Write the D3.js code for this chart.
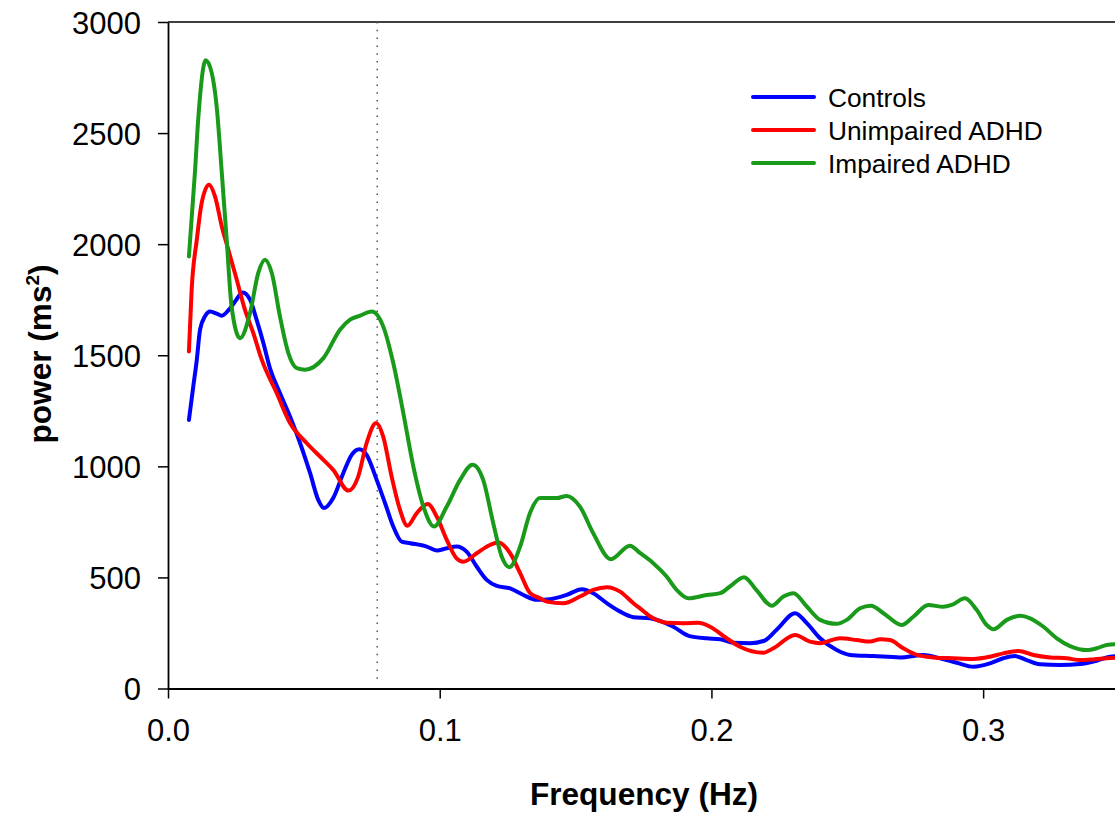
<!DOCTYPE html>
<html>
<head>
<meta charset="utf-8">
<script src="https://cdn.jsdelivr.net/npm/d3@7"></script>
<style>
  html, body { margin: 0; padding: 0; background: #fff; }
  svg { display: block; }
  text { font-family: "Liberation Sans", Arial, Helvetica, sans-serif; fill: #000; }
</style>
</head>
<body>
<svg id="chart" width="1115" height="815"></svg>
<script>
// ---- data ----
const seriesNames = ["Controls", "Unimpaired ADHD", "Impaired ADHD"];

const controlsFreq = [0.0077,0.0093,0.0106,0.0118,0.0136,0.0155,0.0179,0.0198,0.0222,0.0247,0.0275,0.0302,0.0326,0.0351,0.0375,0.0412,0.0449,0.0486,0.0523,0.0553,0.0574,0.0608,0.0645,0.0676,0.0704,0.0731,0.0768,0.0799,0.0829,0.086,0.0891,0.0952,0.0989,0.1026,0.1062,0.1099,0.1136,0.1173,0.121,0.1259,0.1308,0.1357,0.1406,0.1467,0.1523,0.1565,0.1615,0.1664,0.1713,0.1774,0.186,0.1919,0.1983,0.2032,0.2081,0.2142,0.2195,0.224,0.2308,0.2351,0.24,0.2461,0.251,0.2596,0.2694,0.278,0.2841,0.2903,0.2964,0.3025,0.3074,0.3117,0.316,0.3209,0.3283,0.3357,0.3418,0.3467,0.35];
const controlsPower = [1209,1359,1480,1615,1675,1697,1687,1678,1702,1742,1783,1750,1660,1555,1442,1330,1224,1105,969,849,812,857,969,1052,1077,1052,939,834,729,661,654,639,621,631,639,616,549,489,462,451,421,399,402,421,447,429,384,346,321,316,278,236,226,222,206,204,215,264,339,294,226,173,151,146,140,151,136,116,98,113,136,146,128,109,106,110,125,143,146];

const unimpairedFreq = [0.0077,0.0087,0.0106,0.0124,0.0151,0.0173,0.0198,0.0222,0.0253,0.0283,0.0314,0.0345,0.04,0.0449,0.051,0.0572,0.0608,0.0664,0.07,0.0731,0.0766,0.0792,0.0823,0.0854,0.0881,0.0915,0.0956,0.0989,0.1026,0.1062,0.1087,0.1136,0.1185,0.1216,0.1259,0.1296,0.1332,0.1369,0.1394,0.1455,0.1516,0.1565,0.1615,0.1664,0.1713,0.1737,0.1786,0.1835,0.1897,0.1952,0.1995,0.2056,0.2105,0.2191,0.2228,0.2308,0.2363,0.24,0.2473,0.2535,0.2584,0.2621,0.2657,0.2706,0.2756,0.2817,0.289,0.2964,0.3025,0.3074,0.313,0.3185,0.3246,0.3308,0.3357,0.3406,0.3455,0.35];
const unimpairedPower = [1517,1795,2020,2186,2268,2215,2080,1975,1840,1705,1600,1480,1330,1195,1105,1029,984,891,954,1105,1195,1134,954,804,732,789,831,774,669,586,571,609,646,657,609,519,430,406,391,384,414,444,456,436,384,361,316,296,294,296,278,226,188,161,181,241,211,204,226,218,211,222,218,181,151,140,136,133,143,158,169,151,140,136,128,131,136,139];

const impairedFreq = [0.0077,0.0099,0.0112,0.0139,0.0161,0.0179,0.0198,0.0216,0.0234,0.0265,0.0302,0.0332,0.0357,0.0382,0.0412,0.0443,0.0474,0.0504,0.0572,0.0633,0.067,0.0707,0.075,0.0792,0.0829,0.0866,0.0903,0.094,0.0979,0.1026,0.1075,0.1121,0.116,0.1197,0.1228,0.1256,0.1296,0.1332,0.1369,0.1431,0.1467,0.1516,0.1565,0.163,0.17,0.1737,0.1786,0.1835,0.1872,0.1915,0.1983,0.2032,0.2068,0.212,0.2165,0.2222,0.2265,0.2302,0.2351,0.24,0.2461,0.2498,0.2547,0.2587,0.2633,0.27,0.2743,0.2798,0.2853,0.2884,0.2933,0.2976,0.3013,0.3038,0.3087,0.3136,0.3173,0.3222,0.3271,0.332,0.3381,0.3418,0.3455,0.35];
const impairedPower = [1945,2321,2576,2828,2771,2621,2321,2020,1720,1577,1690,1870,1930,1870,1675,1510,1442,1435,1487,1615,1660,1678,1697,1630,1465,1240,999,819,729,819,939,1007,939,744,594,546,639,789,857,857,867,819,699,582,643,610,564,504,444,406,421,429,459,501,444,373,414,429,369,309,291,309,361,373,339,286,323,376,368,376,406,354,286,267,309,327,316,278,226,191,173,181,196,200];

const xTicks = [0.0, 0.1, 0.2, 0.3];
const yTicks = [0, 500, 1000, 1500, 2000, 2500, 3000];
const markerFreq = 0.077;

// ---- layout ----
const svg = d3.select("#chart");
const mLeft = 168, mTop = 22, mBottom = 688.5, mRight = 1119;
const colors = ["#0000ff", "#ff0000", "#1a9a1a"];

const x = d3.scaleLinear().domain([0, 0.35]).range([mLeft, mRight]);
const y = d3.scaleLinear().domain([0, 3000]).range([mBottom, mTop]);

// frame top & right
svg.append("line").attr("x1", mLeft).attr("x2", mRight).attr("y1", mTop).attr("y2", mTop)
  .attr("stroke", "#000").attr("stroke-width", 1.5);
svg.append("line").attr("x1", mRight).attr("x2", mRight).attr("y1", mTop).attr("y2", mBottom)
  .attr("stroke", "#000").attr("stroke-width", 1.5);

// axes
const xAxis = d3.axisBottom(x).tickValues(xTicks).tickFormat(d3.format(".1f")).tickSizeInner(10).tickSizeOuter(0).tickPadding(20);
const yAxis = d3.axisLeft(y).tickValues(yTicks).tickFormat(d3.format("d")).tickSizeInner(10).tickSizeOuter(0).tickPadding(17);

const gx = svg.append("g").attr("transform", `translate(0,${mBottom})`).call(xAxis);
const gy = svg.append("g").attr("transform", `translate(${mLeft},0)`).call(yAxis);
[gx, gy].forEach(g => {
  g.selectAll("path.domain").attr("stroke", "#000").attr("stroke-width", 1.8);
  g.selectAll(".tick line").attr("stroke", "#000").attr("stroke-width", 1.5);
  g.selectAll(".tick text").attr("font-size", 31).attr("font-family", '"Liberation Sans", Arial, sans-serif').attr("fill", "#000");
});
gy.selectAll(".tick text").attr("dy", "0.36em");

// dotted marker line
svg.append("line").attr("x1", x(markerFreq)).attr("x2", x(markerFreq))
  .attr("y1", mTop).attr("y2", mBottom - 6)
  .attr("stroke", "#555").attr("stroke-width", 1.5).attr("stroke-dasharray", "1.5,6.3");

// series
const series = [
  { name: seriesNames[0], f: controlsFreq, p: controlsPower },
  { name: seriesNames[1], f: unimpairedFreq, p: unimpairedPower },
  { name: seriesNames[2], f: impairedFreq, p: impairedPower }
];

const line = d3.line().x(d => x(d[0])).y(d => y(d[1])).curve(d3.curveMonotoneX);

svg.append("defs").append("clipPath").attr("id", "clip")
  .append("rect").attr("x", mLeft).attr("y", mTop - 10).attr("width", mRight - mLeft).attr("height", mBottom - mTop + 10);

const plot = svg.append("g").attr("clip-path", "url(#clip)");
series.forEach((s, i) => {
  const pts = s.f.map((f, k) => [f, s.p[k]]);
  plot.append("path").datum(pts)
    .attr("d", line)
    .attr("fill", "none")
    .attr("stroke", colors[i])
    .attr("stroke-width", 4)
    .attr("stroke-linejoin", "round")
    .attr("stroke-linecap", "round");
});

// legend
const lg = svg.append("g");
series.forEach((s, i) => {
  const ly = 97 + i * 33;
  lg.append("line").attr("x1", 753).attr("x2", 814).attr("y1", ly).attr("y2", ly)
    .attr("stroke", colors[i]).attr("stroke-width", 4).attr("stroke-linecap", "round");
  lg.append("text").attr("x", 828).attr("y", ly + 9.5).attr("font-size", 26.3).text(s.name);
});

// axis titles
svg.append("text").attr("x", 644).attr("y", 805).attr("text-anchor", "middle")
  .attr("font-size", 31.6).attr("font-weight", "bold").text("Frequency (Hz)");

const yt = svg.append("text").attr("transform", "translate(51,354) rotate(-90)")
  .attr("text-anchor", "middle").attr("font-size", 31.6).attr("font-weight", "bold");
yt.append("tspan").text("power (ms");
yt.append("tspan").attr("font-size", 19).attr("dy", -12).text("2");
yt.append("tspan").attr("dy", 12).text(")");
</script>
</body>
</html>
